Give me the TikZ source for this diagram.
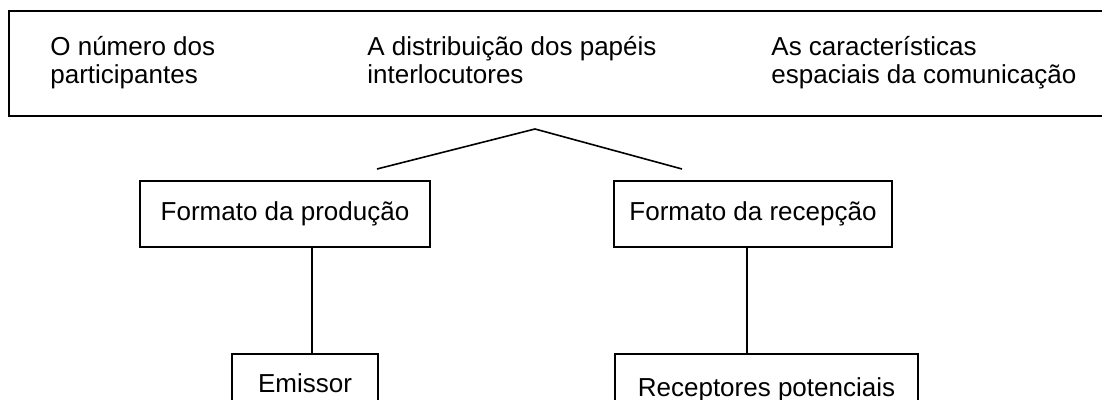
\documentclass[tikz,border=0pt]{standalone}
\usepackage{fontspec}
\setmainfont{Liberation Sans}
\usetikzlibrary{positioning}

\begin{document}
\begin{tikzpicture}[
  x=0.5pt, y=-0.5pt,
  every node/.style={inner sep=0pt,font=\fontsize{13}{14}\selectfont},
  caixa/.style={draw,line width=0.8pt},
  texto/.style={align=left,anchor=base west},
  ]
  \useasboundingbox (0,0) rectangle (1102,400);

  \node[caixa, line width=1pt, anchor=north west, minimum width=548pt, minimum height=52.5pt] (quadro) at (8,10) {};
  \node[texto] (numero) at (50,84) {O número dos\\participantes};
  \node[texto] (distribuicao) at (367,84) {A distribuição dos papéis\\interlocutores};
  \node[texto] (espaco) at (771,84) {As características\\espaciais da comunicação};

  \node[caixa, minimum width=145pt, minimum height=33pt] (producao) at (285,214) {Formato da produção};
  \node[caixa, minimum width=139pt, minimum height=33pt] (recepcao) at (753,214) {Formato da recepção};
  \node[caixa, anchor=north, minimum width=73pt, minimum height=29pt] (emissor) at (305,353) {Emissor};
  \node[caixa, anchor=north, minimum width=151.5pt, minimum height=36pt] (receptores) at (766.5,353) {Receptores potenciais};

  \coordinate (apice) at (535,129);
  \coordinate (ladoE) at (377,169);
  \coordinate (ladoD) at (682,169);

  \draw[line width=0.8pt] (ladoE) -- (apice) -- (ladoD);
  \draw[line width=0.8pt] ([xshift=13.5pt]producao.south) -- ([xshift=3.5pt]emissor.north);
  \draw[line width=0.8pt] ([xshift=-3pt]recepcao.south) -- ([xshift=-9.75pt]receptores.north);

\end{tikzpicture}
\end{document}
